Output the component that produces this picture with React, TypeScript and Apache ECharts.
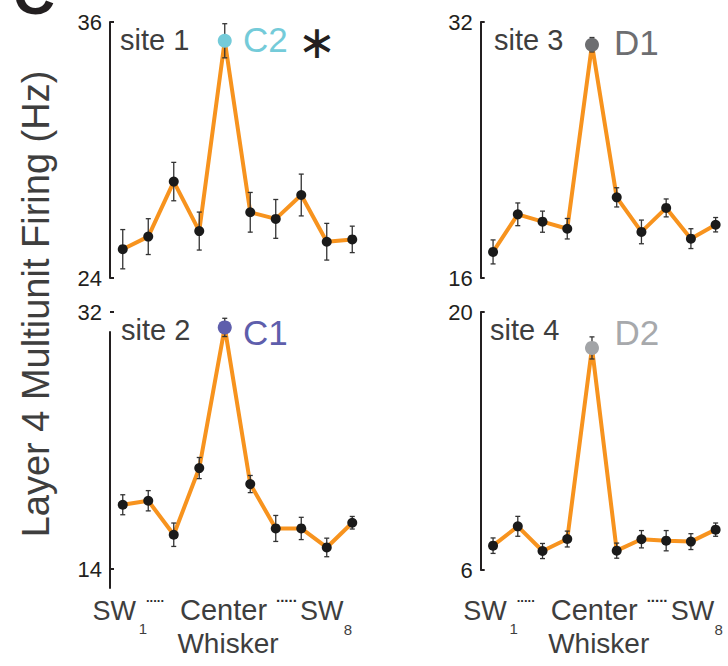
import React, { useEffect, useRef } from 'react';
import * as echarts from 'echarts';

const whiskers = [1, 2, 3, 4, 5, 6, 7, 8, 9, 10];
const centerIndex = 4;

const site1Mean = [25.35, 25.94, 28.52, 26.2, 35.12, 27.08, 26.77, 27.89, 25.7, 25.81];
const site1Err = [0.92, 0.84, 0.9, 0.89, 0.8, 0.93, 0.91, 0.98, 0.86, 0.62];
const site2Mean = [18.5, 18.78, 16.4, 21.07, 30.92, 19.95, 16.84, 16.84, 15.51, 17.24];
const site2Err = [0.7, 0.71, 0.82, 0.74, 0.64, 0.6, 0.91, 0.78, 0.65, 0.44];
const site3Mean = [17.63, 19.98, 19.52, 19.08, 30.58, 21.04, 18.88, 20.38, 18.46, 19.33];
const site3Err = [0.75, 0.71, 0.66, 0.64, 0.45, 0.6, 0.74, 0.56, 0.62, 0.45];
const site4Mean = [7.32, 8.37, 7.03, 7.68, 18.05, 7.05, 7.67, 7.59, 7.54, 8.19];
const site4Err = [0.42, 0.54, 0.41, 0.43, 0.6, 0.41, 0.47, 0.55, 0.43, 0.36];

const site1Ticks = [24, 36];
const site2Ticks = [14, 32];
const site3Ticks = [16, 32];
const site4Ticks = [6, 20];

const siteNames = ['site 1', 'site 2', 'site 3', 'site 4'];
const centerNames = ['C2', 'C1', 'D1', 'D2'];
const yTitle = 'Layer 4 Multiunit Firing (Hz)';

const FONT = '"Liberation Sans", Arial, sans-serif';
const ORANGE = '#F7931E';
const INK = '#231F20';
const GREY_TEXT = '#3E3E3E';

const panels = [
  { mean: site1Mean, err: site1Err, ticks: site1Ticks, left: 110, top: 22, height: 256, color: '#74CBD9', textColor: '#74CBD9', axisLine: true },
  { mean: site2Mean, err: site2Err, ticks: site2Ticks, left: 110, top: 312, height: 257, color: '#5E5EAC', textColor: '#5E5EAC', axisLine: false },
  { mean: site3Mean, err: site3Err, ticks: site3Ticks, left: 480.7, top: 22, height: 256, color: '#6D6E71', textColor: '#6D6E71', axisLine: true },
  { mean: site4Mean, err: site4Err, ticks: site4Ticks, left: 480.7, top: 312, height: 258, color: '#A2A4A7', textColor: '#A7A9AC', axisLine: true },
];

const labelPos = [
  { sx: 120, sy: 40.3, cx: 243, cy: 39.6 },
  { sx: 121, sy: 330.3, cx: 243, cy: 332.2 },
  { sx: 494, sy: 40.3, cx: 614, cy: 42 },
  { sx: 490, sy: 330.3, cx: 614.5, cy: 332.8 },
];

function xLabelGroup(ax: number) {
  const base = { fill: GREY_TEXT, fontFamily: FONT };
  const dots = { fill: '#2A2A2A', fontFamily: FONT, fontWeight: 'bold' };
  return {
    type: 'group',
    x: ax,
    y: 0,
    children: [
      { type: 'text', x: 26, y: 610.6, style: { ...base, text: 'SW', fontSize: 27, align: 'right', verticalAlign: 'middle' } },
      { type: 'text', x: 33, y: 628, style: { ...base, text: '1', fontSize: 15, align: 'center', verticalAlign: 'middle' } },
      { type: 'text', x: 36, y: 597, style: { ...dots, text: '.....', fontSize: 13, align: 'left', verticalAlign: 'middle' } },
      { type: 'text', x: 70, y: 610, style: { ...base, text: 'Center', fontSize: 29, align: 'left', verticalAlign: 'middle' } },
      { type: 'text', x: 166, y: 596.5, style: { ...dots, text: '.....', fontSize: 15, align: 'left', verticalAlign: 'middle' } },
      { type: 'text', x: 190, y: 610.6, style: { ...base, text: 'SW', fontSize: 27, align: 'left', verticalAlign: 'middle' } },
      { type: 'text', x: 238, y: 629, style: { ...base, text: '8', fontSize: 15, align: 'center', verticalAlign: 'middle' } },
      { type: 'text', x: 118, y: 643.3, style: { ...base, text: 'Whisker', fontSize: 28, align: 'center', verticalAlign: 'middle' } },
    ],
  };
}

export default function App() {
  const ref = useRef<HTMLDivElement>(null);
  useEffect(() => {
    const chart = echarts.init(ref.current!, null, { renderer: 'svg' });

    const grid: any[] = [];
    const xAxis: any[] = [];
    const yAxis: any[] = [];
    const series: any[] = [];

    panels.forEach((p, k) => {
      grid.push({ left: p.left, top: p.top, width: 255, height: p.height, containLabel: false });
      xAxis.push({ type: 'value', gridIndex: k, min: 0.5, max: 10.5, show: false });
      yAxis.push({
        type: 'value',
        gridIndex: k,
        min: p.ticks[0],
        max: p.ticks[1],
        axisLine: { show: p.axisLine, lineStyle: { color: INK, width: 2 } },
        axisTick: { show: true, inside: true, length: 4, customValues: p.ticks, lineStyle: { color: INK, width: 2 } },
        axisLabel: { show: true, customValues: p.ticks, color: INK, fontSize: 22, fontFamily: FONT, margin: 8, padding: [0, 0, 6, 0] },
        splitLine: { show: false },
      });
      series.push({
        type: 'line',
        xAxisIndex: k,
        yAxisIndex: k,
        data: whiskers.map((w, i) => [w, p.mean[i]]),
        symbol: 'none',
        lineStyle: { color: ORANGE, width: 4 },
        z: 2,
        silent: true,
      });
      series.push({
        type: 'custom',
        xAxisIndex: k,
        yAxisIndex: k,
        data: whiskers.map((w, i) => [w, p.mean[i] - p.err[i], p.mean[i] + p.err[i]]),
        encode: { x: 0, y: [1, 2] },
        z: 3,
        silent: true,
        renderItem: (params: any, api: any) => {
          const x = api.value(0);
          const lo = api.coord([x, api.value(1)]);
          const hi = api.coord([x, api.value(2)]);
          const cap = 2.5;
          const style = { stroke: '#333333', lineWidth: 1.3 };
          return {
            type: 'group',
            children: [
              { type: 'line', shape: { x1: lo[0], y1: lo[1], x2: hi[0], y2: hi[1] }, style },
              { type: 'line', shape: { x1: hi[0] - cap, y1: hi[1], x2: hi[0] + cap, y2: hi[1] }, style },
              { type: 'line', shape: { x1: lo[0] - cap, y1: lo[1], x2: lo[0] + cap, y2: lo[1] }, style },
            ],
          };
        },
      });
      series.push({
        type: 'scatter',
        xAxisIndex: k,
        yAxisIndex: k,
        z: 4,
        silent: true,
        symbol: 'circle',
        symbolSize: 10,
        itemStyle: { color: '#1A1A1A', opacity: 1 },
        data: whiskers.map((w, i) =>
          i === centerIndex
            ? { value: [w, p.mean[i]], symbolSize: 14, itemStyle: { color: p.color } }
            : [w, p.mean[i]]
        ),
      });
    });

    // detached axis line of site 2
    grid.push({ left: 109.5, top: 332, width: 10, height: 256 });
    xAxis.push({ type: 'value', gridIndex: 4, min: 0, max: 1, show: false });
    yAxis.push({
      type: 'value', gridIndex: 4, min: 0, max: 1,
      axisLine: { show: true, lineStyle: { color: INK, width: 2 } },
      axisTick: { show: false }, axisLabel: { show: false }, splitLine: { show: false },
    });

    const graphic: any[] = [
      { type: 'text', x: 34, y: -7, style: { text: 'C', fontSize: 58, fontWeight: 'bold', fontFamily: FONT, fill: INK, align: 'center', verticalAlign: 'middle' } },
      { type: 'text', x: 36, y: 304, rotation: Math.PI / 2, style: { text: yTitle, fontSize: 38, fontFamily: FONT, fill: GREY_TEXT, align: 'center', verticalAlign: 'middle' } },
      { type: 'text', x: 317, y: 42, style: { text: '\u2217', fontSize: 46, fontFamily: '"DejaVu Sans", sans-serif', fill: INK, align: 'center', verticalAlign: 'middle' } },
      xLabelGroup(110),
      xLabelGroup(480.7),
    ];
    panels.forEach((p, k) => {
      const lp = labelPos[k];
      graphic.push({ type: 'text', x: lp.sx, y: lp.sy, style: { text: siteNames[k], fontSize: 29, fontFamily: FONT, fill: GREY_TEXT, align: 'left', verticalAlign: 'middle' } });
      graphic.push({ type: 'text', x: lp.cx, y: lp.cy, style: { text: centerNames[k], fontSize: 35, fontFamily: FONT, fill: p.textColor, align: 'left', verticalAlign: 'middle' } });
    });

    chart.setOption({
      animation: false,
      backgroundColor: '#FFFFFF',
      grid,
      xAxis,
      yAxis,
      series,
      graphic,
    });
    return () => chart.dispose();
  }, []);
  return <div ref={ref} style={{ position: 'fixed', left: 0, top: 0, width: 728, height: 666 }} />;
}
